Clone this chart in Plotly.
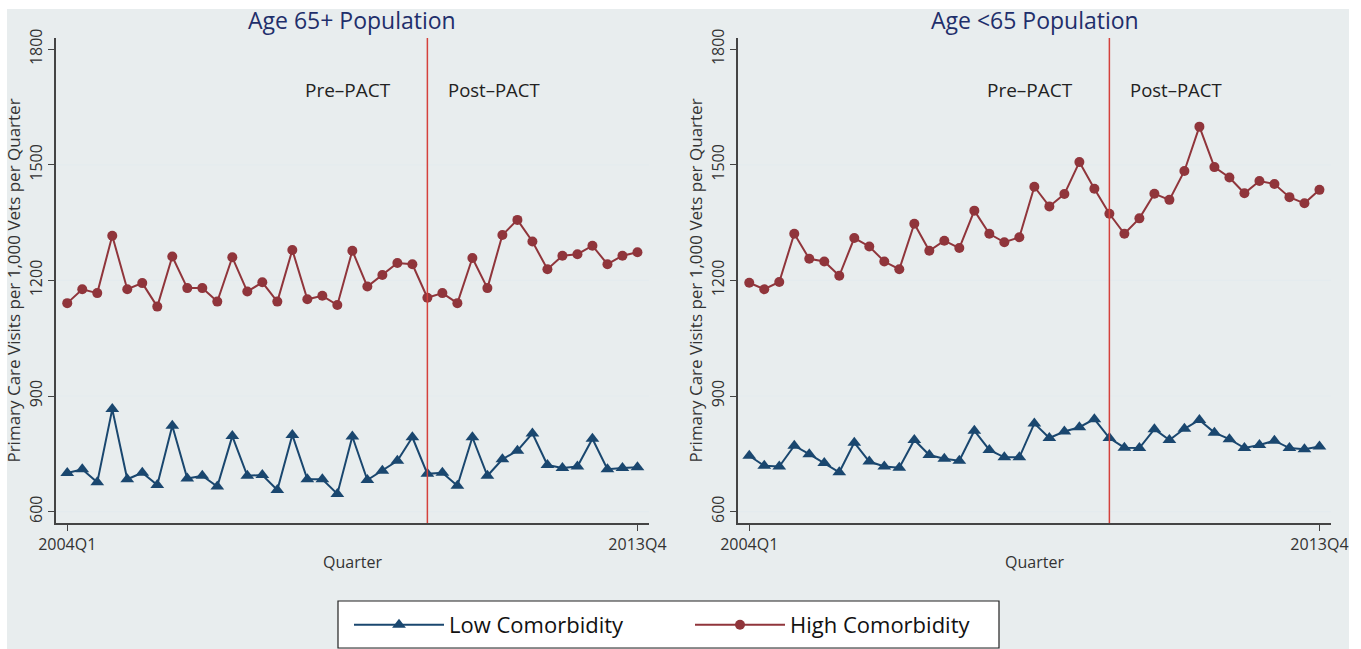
import plotly.graph_objects as go

# Quarterly primary care visits per 1,000 veterans, 2004Q1 onward
quarters = list(range(39))
tick_vals = [0, 38]
tick_text = ["2004Q1", "2013Q4"]
pact_start = 24

age65_low = [700, 710, 676, 866, 684, 701, 669, 823, 686, 693, 665, 796, 693, 695, 656, 799,
             684, 684, 646, 795, 682, 706, 732, 793, 698, 701, 667, 793, 693, 736, 758, 803,
             721, 713, 717, 789, 710, 713, 715]
age65_high = [1141, 1177, 1167, 1316, 1177, 1193, 1132, 1262, 1180, 1180, 1145, 1260, 1171, 1195,
              1145, 1279, 1151, 1160, 1136, 1277, 1184, 1214, 1245, 1242, 1155, 1167, 1141, 1258,
              1180, 1318, 1357, 1301, 1229, 1264, 1268, 1290, 1242, 1264, 1273]
under65_low = [745, 719, 717, 771, 749, 726, 702, 779, 730, 717, 714, 786, 747, 737, 732, 810,
               760, 741, 741, 829, 791, 808, 819, 840, 791, 766, 765, 814, 786, 815, 838, 805,
               788, 765, 773, 784, 765, 762, 769]
under65_high = [1194, 1177, 1196, 1321, 1256, 1249, 1212, 1310, 1288, 1249, 1229, 1347, 1277, 1303,
                1284, 1381, 1321, 1299, 1312, 1443, 1392, 1424, 1507, 1438, 1373, 1321, 1361, 1425,
                1409, 1484, 1599, 1494, 1467, 1426, 1458, 1450, 1416, 1400, 1435]

panel_titles = ["Age 65+ Population", "Age <65 Population"]
grid_vals = [600, 900, 1200, 1500]
y_ticks = [600, 900, 1200, 1500, 1800]

W, H = 1361, 649
BG = "#e8edee"
NAVY = "#1a476f"
MAROON = "#90353b"
VLINE = "#d4413c"
FONT = "Open Sans"

def px_x(p):
    return p / W

def px_y(p):
    return 1 - p / H

fig = go.Figure()

panels = [
    (age65_low, age65_high, "x", "y", (56, 649)),
    (under65_low, under65_high, "x2", "y2", (738, 1331)),
]

for i, (low, high, xa, ya, _) in enumerate(panels):
    fig.add_trace(go.Scatter(
        x=quarters, y=low, xaxis=xa, yaxis=ya, mode="lines+markers",
        name="Low Comorbidity", legendgroup="low", showlegend=(i == 0),
        line=dict(color=NAVY, width=2),
        marker=dict(symbol="triangle-up", size=12, color=NAVY),
    ))
    fig.add_trace(go.Scatter(
        x=quarters, y=high, xaxis=xa, yaxis=ya, mode="lines+markers",
        name="High Comorbidity", legendgroup="high", showlegend=(i == 0),
        line=dict(color=MAROON, width=2),
        marker=dict(symbol="circle", size=10, color=MAROON),
    ))

y_top, y_bot = 38, 523
axis_common = dict(showgrid=False, zeroline=False, showline=True, linecolor="#444",
                   linewidth=1.5, ticks="outside", ticklen=6, tickcolor="#444",
                   automargin=False,
                   tickfont=dict(family=FONT, size=16, color="#333"))

layout_axes = {}
for i, (_, _, xa, ya, (x0, x1)) in enumerate(panels):
    xname = "xaxis" if i == 0 else "xaxis2"
    yname = "yaxis" if i == 0 else "yaxis2"
    layout_axes[xname] = dict(
        axis_common, domain=[px_x(x0), px_x(x1)], anchor=ya,
        range=[-0.75, 38.77], tickvals=tick_vals, ticktext=tick_text,
        title=dict(text="Quarter", font=dict(family=FONT, size=16, color="#333"), standoff=3),
    )
    layout_axes[yname] = dict(
        axis_common, domain=[px_y(y_bot), px_y(y_top)], anchor=xa,
        range=[570.5, 1829], tickvals=y_ticks, tickangle=-90,
        title=dict(text="Primary Care Visits per 1,000 Vets per Quarter",
                   font=dict(family=FONT, size=17, color="#333"), standoff=0),
    )

shapes = [
    # panel background
    dict(type="rect", xref="paper", yref="paper", x0=px_x(7), x1=px_x(1349),
         y0=0, y1=px_y(9), fillcolor=BG, line=dict(width=0), layer="below"),
    # legend frame
    dict(type="rect", xref="paper", yref="paper", x0=px_x(338), x1=px_x(999),
         y0=px_y(648), y1=px_y(601), fillcolor="white",
         line=dict(color="#222", width=1.2), layer="below"),
]
annotations = []
for i, (_, _, xa, ya, (x0, x1)) in enumerate(panels):
    for g in grid_vals:
        shapes.append(dict(type="line", xref=f"{xa} domain", yref=ya, x0=0, x1=1, y0=g, y1=g,
                           line=dict(color="#e4ebee", width=1.2), layer="below"))
    shapes.append(dict(type="line", xref=xa, yref=f"{ya} domain", x0=pact_start, x1=pact_start,
                       y0=0, y1=1, line=dict(color=VLINE, width=1.5)))
    annotations.append(dict(text=panel_titles[i], xref="paper", yref="paper",
                            x=px_x((x0 + x1) / 2), y=px_y(20), showarrow=False,
                            font=dict(family=FONT, size=23, color="#1f2f6b"),
                            xanchor="center", yanchor="middle"))
    annotations.append(dict(text="Pre–PACT", xref=xa, yref=ya, x=pact_start, y=1695,
                            xanchor="right", yanchor="middle", xshift=-34, showarrow=False,
                            font=dict(family=FONT, size=19, color="#222")))
    annotations.append(dict(text="Post–PACT", xref=xa, yref=ya, x=pact_start, y=1695,
                            xanchor="left", yanchor="middle", xshift=19, showarrow=False,
                            font=dict(family=FONT, size=18.5, color="#222")))

fig.update_layout(
    width=W, height=H, margin=dict(l=0, r=0, t=0, b=0, autoexpand=False),
    paper_bgcolor="white", plot_bgcolor="white",
    shapes=shapes, annotations=annotations,
    legend=dict(orientation="h", x=px_x(349), y=px_y(625), xanchor="left", yanchor="middle",
                bgcolor="rgba(0,0,0,0)", borderwidth=0, itemwidth=90, entrywidth=236,
                font=dict(family=FONT, size=22, color="#111")),
    **layout_axes,
)

fig.write_html("out.html")
